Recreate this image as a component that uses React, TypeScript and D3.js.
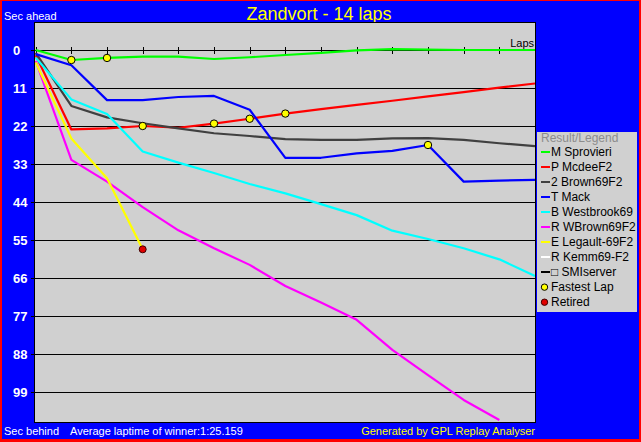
import * as d3 from 'd3'

// Gap to the leader in seconds, one value per lap (0 = start)
const laps = [0, 1, 2, 3, 4, 5, 6, 7, 8, 9, 10, 11, 12, 13, 14]
const sprovieri = [0, 2.9, 2.3, 1.9, 1.9, 2.6, 2.1, 1.45, 0.85, 0.1, -0.25, -0.1, 0, 0, 0]
const mcdee = [1.5, 23.0, 22.7, 22.0, 22.5, 21.3, 19.9, 18.4, 17.1, 15.9, 14.7, 13.4, 12.2, 10.9, 9.7]
const brown = [0.8, 16.2, 19.5, 21.2, 22.7, 24.1, 24.9, 25.8, 26.0, 26.0, 25.6, 25.5, 26.0, 27.0, 27.8]
const mack = [1.2, 4.4, 14.5, 14.5, 13.6, 13.3, 17.3, 31.2, 31.2, 29.9, 29.2, 27.5, 38.1, 37.8, 37.6]
const westbrook = [2.2, 14.3, 18.5, 29.4, 32.6, 35.6, 38.8, 41.5, 44.6, 47.8, 52.3, 54.7, 57.4, 60.6, 65.4]
const wbrown = [3.2, 31.8, 38.1, 45.5, 52.2, 57.4, 62.2, 68.3, 73.1, 78.1, 86.8, 94.1, 101.3, 107.1]
const legault = [3.6, 25.6, 37.1, 57.7]
const kemm: number[] = []
const smiserver: number[] = []

const drivers = ['M Sprovieri', 'P McdeeF2', '2 Brown69F2', 'T Mack', 'B Westbrook69', 'R WBrown69F2', 'E Legault-69F2', 'R Kemm69-F2', '\u25A1 SMIserver']
const driverData = [sprovieri, mcdee, brown, mack, westbrook, wbrown, legault, kemm, smiserver]
const driverColors = ['#00ff00', '#ff0000', '#404040', '#0000ff', '#00ffff', '#ff00ff', '#ffff00', '#ffffff', '#000000']

const fastestLaps = [
  { driver: 0, lap: 1 }, { driver: 0, lap: 2 },
  { driver: 1, lap: 3 }, { driver: 1, lap: 5 }, { driver: 1, lap: 6 }, { driver: 1, lap: 7 },
  { driver: 3, lap: 11 },
]
const retired = [{ driver: 6, lap: 3 }]

const yTicks = [0, 11, 22, 33, 44, 55, 66, 77, 88, 99]

const W = 641
const H = 442
const plot = { left: 34.5, top: 22.5, right: 535.5, bottom: 422.5 }
const font = '"Liberation Sans", Arial, sans-serif'

export default function App() {
  const x = d3.scaleLinear().domain([0, 14]).range([35.7, 535])
  const y = d3.scaleLinear().domain([0, 99]).range([50, 392])

  const line = d3.line<number>()
    .x((d, i) => x(laps[i]))
    .y(d => y(d))

  const legendX = 537
  const legendY = 132
  const rowH = 15.05

  return (
    <svg width={W} height={H} style={{ position: 'absolute', left: 0, top: 0 }} fontFamily={font}>
      <rect x={0} y={0} width={W} height={H} fill="#ff0000" />
      <rect x={2} y={1} width={W - 4} height={H - 4} fill="#0000ff" />

      {/* title and captions */}
      <text x={319} y={20} textAnchor="middle" fontSize={18} fill="#ffff00">Zandvort - 14 laps</text>
      <text x={4} y={19.5} fontSize={11} fill="#ffffff">Sec ahead</text>
      <text x={4} y={435} fontSize={11} fill="#ffffff">Sec behind</text>
      <text x={70} y={435} fontSize={11} fill="#ffffff">Average laptime of winner:1:25.159</text>
      <text x={535} y={435} fontSize={11} fill="#ffff00" textAnchor="end">Generated by GPL Replay Analyser</text>

      {/* plot area */}
      <rect x={plot.left} y={plot.top} width={plot.right - plot.left} height={plot.bottom - plot.top}
        fill="#d0d0d0" stroke="#000000" strokeWidth={1} shapeRendering="crispEdges" />

      {yTicks.map(t => (
        <g key={t}>
          <line x1={31} x2={plot.right} y1={Math.round(y(t)) + 0.5} y2={Math.round(y(t)) + 0.5}
            stroke="#000" strokeWidth={1} shapeRendering="crispEdges" />
          <text x={13} y={y(t) + 5} fontSize={13} fontWeight="bold" fill="#ffffff">{t}</text>
        </g>
      ))}

      {laps.map(l => (
        <line key={l} x1={Math.round(x(l)) + 0.5} x2={Math.round(x(l)) + 0.5} y1={47} y2={53.5}
          stroke="#000" strokeWidth={1} shapeRendering="crispEdges" />
      ))}
      <text x={534} y={47} fontSize={11} textAnchor="end" fill="#000">Laps</text>

      <clipPath id="plotClip">
        <rect x={plot.left + 0.5} y={plot.top + 0.5} width={plot.right - plot.left - 1} height={plot.bottom - plot.top - 1} />
      </clipPath>

      <g clipPath="url(#plotClip)">
        {driverData.map((d, i) => d.length > 0 && (
          <path key={drivers[i]} d={line(d) ?? ''} fill="none" stroke={driverColors[i]}
            strokeWidth={2.2} strokeLinejoin="round" />
        ))}
        {fastestLaps.map((f, i) => (
          <circle key={i} cx={x(f.lap)} cy={y(driverData[f.driver][f.lap])} r={3.7}
            fill="#ffff00" stroke="#000" strokeWidth={1} />
        ))}
        {retired.map((r, i) => (
          <circle key={i} cx={x(r.lap)} cy={y(driverData[r.driver][r.lap])} r={3.5}
            fill="#e00000" stroke="#400000" strokeWidth={1} />
        ))}
      </g>

      {/* legend */}
      <rect x={legendX} y={legendY} width={100} height={180} fill="#d0d0d0" />
      <text x={541} y={141.7} fontSize={12} fill="#8c8c8c">Result/Legend</text>
      {drivers.map((name, i) => {
        const base = 155.7 + i * rowH
        return (
          <g key={name}>
            <line x1={540.5} x2={549.5} y1={base - 4} y2={base - 4} stroke={driverColors[i]} strokeWidth={2} shapeRendering="crispEdges" />
            <text x={551} y={base} fontSize={12} fill="#000">{name}</text>
          </g>
        )
      })}
      <circle cx={544.5} cy={155.7 + 9 * rowH - 4} r={3.2} fill="#ffff00" stroke="#000" strokeWidth={1} />
      <text x={551} y={155.7 + 9 * rowH} fontSize={12} fill="#000">Fastest Lap</text>
      <circle cx={544.5} cy={155.7 + 10 * rowH - 4} r={3.2} fill="#e00000" stroke="#400000" strokeWidth={1} />
      <text x={551} y={155.7 + 10 * rowH} fontSize={12} fill="#000">Retired</text>
    </svg>
  )
}
